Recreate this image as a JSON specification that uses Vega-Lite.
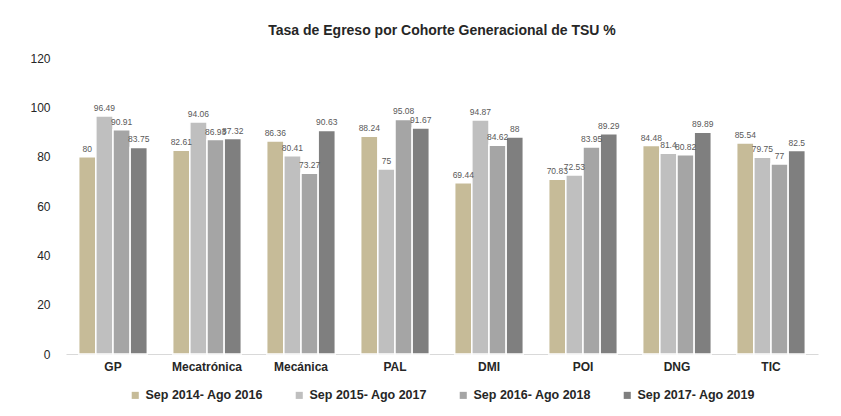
{
  "$schema": "https://vega.github.io/schema/vega-lite/v6.json",
  "autosize": "none",
  "width": 752,
  "height": 296,
  "padding": {"left": 66, "top": 58, "right": 23, "bottom": 62},
  "background": "white",
  "title": {
    "text": "Tasa de Egreso por Cohorte Generacional de TSU %",
    "font": "Liberation Sans",
    "fontSize": 14,
    "fontWeight": "bold",
    "color": "#262626",
    "anchor": "middle",
    "offset": 14
  },
  "config": {
    "view": {"stroke": null},
    "font": "Liberation Sans"
  },
  "data": {
    "values": [
      {"carrera": "GP", "cohorte": "Sep 2014- Ago 2016", "valor": 80},
      {"carrera": "GP", "cohorte": "Sep 2015- Ago 2017", "valor": 96.49},
      {"carrera": "GP", "cohorte": "Sep 2016- Ago 2018", "valor": 90.91},
      {"carrera": "GP", "cohorte": "Sep 2017- Ago 2019", "valor": 83.75},
      {"carrera": "Mecatrónica", "cohorte": "Sep 2014- Ago 2016", "valor": 82.61},
      {"carrera": "Mecatrónica", "cohorte": "Sep 2015- Ago 2017", "valor": 94.06},
      {"carrera": "Mecatrónica", "cohorte": "Sep 2016- Ago 2018", "valor": 86.93},
      {"carrera": "Mecatrónica", "cohorte": "Sep 2017- Ago 2019", "valor": 87.32},
      {"carrera": "Mecánica", "cohorte": "Sep 2014- Ago 2016", "valor": 86.36},
      {"carrera": "Mecánica", "cohorte": "Sep 2015- Ago 2017", "valor": 80.41},
      {"carrera": "Mecánica", "cohorte": "Sep 2016- Ago 2018", "valor": 73.27},
      {"carrera": "Mecánica", "cohorte": "Sep 2017- Ago 2019", "valor": 90.63},
      {"carrera": "PAL", "cohorte": "Sep 2014- Ago 2016", "valor": 88.24},
      {"carrera": "PAL", "cohorte": "Sep 2015- Ago 2017", "valor": 75},
      {"carrera": "PAL", "cohorte": "Sep 2016- Ago 2018", "valor": 95.08},
      {"carrera": "PAL", "cohorte": "Sep 2017- Ago 2019", "valor": 91.67},
      {"carrera": "DMI", "cohorte": "Sep 2014- Ago 2016", "valor": 69.44},
      {"carrera": "DMI", "cohorte": "Sep 2015- Ago 2017", "valor": 94.87},
      {"carrera": "DMI", "cohorte": "Sep 2016- Ago 2018", "valor": 84.62},
      {"carrera": "DMI", "cohorte": "Sep 2017- Ago 2019", "valor": 88},
      {"carrera": "POI", "cohorte": "Sep 2014- Ago 2016", "valor": 70.83},
      {"carrera": "POI", "cohorte": "Sep 2015- Ago 2017", "valor": 72.53},
      {"carrera": "POI", "cohorte": "Sep 2016- Ago 2018", "valor": 83.95},
      {"carrera": "POI", "cohorte": "Sep 2017- Ago 2019", "valor": 89.29},
      {"carrera": "DNG", "cohorte": "Sep 2014- Ago 2016", "valor": 84.48},
      {"carrera": "DNG", "cohorte": "Sep 2015- Ago 2017", "valor": 81.4},
      {"carrera": "DNG", "cohorte": "Sep 2016- Ago 2018", "valor": 80.82},
      {"carrera": "DNG", "cohorte": "Sep 2017- Ago 2019", "valor": 89.89},
      {"carrera": "TIC", "cohorte": "Sep 2014- Ago 2016", "valor": 85.54},
      {"carrera": "TIC", "cohorte": "Sep 2015- Ago 2017", "valor": 79.75},
      {"carrera": "TIC", "cohorte": "Sep 2016- Ago 2018", "valor": 77},
      {"carrera": "TIC", "cohorte": "Sep 2017- Ago 2019", "valor": 82.5}
    ]
  },
  "encoding": {
    "x": {
      "field": "carrera",
      "type": "nominal",
      "sort": null,
      "scale": {"paddingInner": 0.27, "paddingOuter": 0.135},
      "axis": {
        "title": null,
        "labelAngle": 0,
        "labelFont": "Liberation Sans",
        "labelFontSize": 12,
        "labelFontWeight": "bold",
        "labelColor": "#262626",
        "labelPadding": 7,
        "ticks": false,
        "domainColor": "#d9d9d9",
        "domainWidth": 1
      }
    },
    "xOffset": {"field": "cohorte", "type": "nominal"},
    "y": {
      "field": "valor",
      "type": "quantitative",
      "scale": {"domain": [0, 120], "nice": false},
      "axis": {
        "title": null,
        "values": [0, 20, 40, 60, 80, 100, 120],
        "grid": false,
        "domain": false,
        "ticks": false,
        "labelPadding": 16,
        "labelFont": "Liberation Sans",
        "labelFontSize": 12,
        "labelColor": "#262626"
      }
    }
  },
  "layer": [
    {
      "mark": {"type": "bar", "stroke": "white", "strokeWidth": 1.5},
      "encoding": {
        "color": {
          "field": "cohorte",
          "type": "nominal",
          "scale": {
            "domain": ["Sep 2014- Ago 2016", "Sep 2015- Ago 2017", "Sep 2016- Ago 2018", "Sep 2017- Ago 2019"],
            "range": ["#C6BB98", "#BFBFBF", "#A5A5A5", "#7F7F7F"]
          },
          "legend": {
            "title": null,
            "orient": "none",
            "legendX": 63,
            "legendY": 331,
            "direction": "horizontal",
            "symbolType": "square",
            "symbolSize": 50,
            "symbolStrokeWidth": 0,
            "labelFont": "Liberation Sans",
            "labelFontSize": 12.5,
            "labelFontWeight": "bold",
            "labelColor": "#262626",
            "labelOffset": 4,
            "columnPadding": 30,
            "labelLimit": 200
          }
        }
      }
    },
    {
      "mark": {"type": "text", "dy": -8, "fontSize": 8.5, "color": "#595959", "font": "Liberation Sans"},
      "encoding": {
        "text": {"field": "valor", "type": "quantitative"}
      }
    }
  ]
}
